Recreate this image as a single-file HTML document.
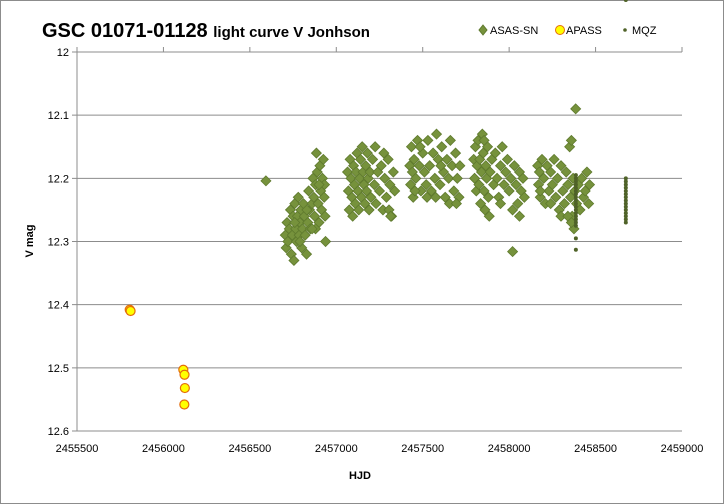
<!DOCTYPE html>
<html><head><meta charset="utf-8"><style>
html,body{margin:0;padding:0;background:#fff;}
svg{display:block;font-family:"Liberation Sans",Arial,sans-serif;}
</style></head><body>
<svg id="chart" width="724" height="504" viewBox="0 0 724 504">
<rect x="0.5" y="0.5" width="723" height="503" fill="#fff" stroke="#8c8c8c"/>
<text x="42" y="37" font-size="20" font-weight="bold" fill="#000">GSC 01071-01128 <tspan font-size="15">light curve V Jonhson</tspan></text>
<g font-size="11" fill="#000">
<g><polygon points="483,25 487,30 483,35 479,30" fill="#76923c" stroke="#5f7a2e"/><text x="490" y="34">ASAS-SN</text></g>
<g><circle cx="560" cy="30" r="4.5" fill="#ffff00" stroke="#e46c0a"/><text x="566" y="34">APASS</text></g>
<g><circle cx="625" cy="30" r="1.8" fill="#4f6228"/><text x="632" y="34">MQZ</text></g>
</g>
<g id="grid"></g>
<g id="axes"></g>
<g id="marks"></g>
<text x="360" y="479" font-size="11" font-weight="bold" text-anchor="middle">HJD</text>
<text transform="translate(33,241) rotate(-90)" font-size="11" font-weight="bold" text-anchor="middle">V mag</text>
</svg>
<script>
const xTicks = [2455500,2456000,2456500,2457000,2457500,2458000,2458500,2459000];
const yTicks = [12,12.1,12.2,12.3,12.4,12.5,12.6];
const yTickLabels = ["12","12.1","12.2","12.3","12.4","12.5","12.6"];
const apassHJD = [2455805,2455810,2456115,2456122,2456124,2456121];
const apassMag = [12.408,12.410,12.503,12.511,12.532,12.558];
const asasData = [
[2456593,12.204],
[2456705,12.29],[2456710,12.31],[2456715,12.27],[2456720,12.30],[2456728,12.28],[2456735,12.25],[2456740,12.32],[2456745,12.29],[2456750,12.26],[2456755,12.33],[2456760,12.24],[2456765,12.28],[2456770,12.30],[2456775,12.26],[2456780,12.23],[2456785,12.29],[2456790,12.27],[2456795,12.25],[2456800,12.31],[2456805,12.28],[2456810,12.24],[2456815,12.26],[2456820,12.29],[2456828,12.32],[2456835,12.27],[2456840,12.22],[2456845,12.25],[2456850,12.28],[2456860,12.24],[2456865,12.20],[2456870,12.23],[2456875,12.26],[2456880,12.21],[2456885,12.16],[2456890,12.19],[2456895,12.24],[2456900,12.27],[2456905,12.18],[2456910,12.22],[2456915,12.25],[2456920,12.20],[2456925,12.17],[2456930,12.23],[2456935,12.26],[2456938,12.30],[2456932,12.21],[2456900,12.21],[2456880,12.28],[2456860,12.28],[2456830,12.25],[2456790,12.30],[2456760,12.27],
[2457065,12.19],[2457070,12.22],[2457075,12.25],[2457080,12.17],[2457085,12.20],[2457090,12.23],[2457095,12.26],[2457100,12.18],[2457105,12.21],[2457110,12.24],[2457115,12.19],[2457120,12.16],[2457125,12.22],[2457130,12.25],[2457135,12.20],[2457140,12.17],[2457145,12.23],[2457150,12.15],[2457155,12.19],[2457160,12.21],[2457165,12.24],[2457170,12.18],[2457175,12.22],[2457180,12.16],[2457185,12.20],[2457190,12.25],[2457195,12.19],[2457200,12.23],[2457210,12.17],[2457220,12.21],[2457230,12.24],[2457240,12.19],[2457250,12.22],[2457260,12.18],[2457270,12.25],[2457280,12.20],[2457290,12.23],[2457300,12.17],[2457310,12.21],[2457320,12.26],[2457330,12.19],[2457338,12.22],[2457225,12.15],[2457275,12.16],[2457305,12.25],[2457315,12.26],
[2457425,12.18],[2457430,12.21],[2457435,12.15],[2457440,12.19],[2457445,12.23],[2457450,12.17],[2457460,12.20],[2457470,12.14],[2457480,12.18],[2457490,12.22],[2457500,12.16],[2457510,12.19],[2457520,12.21],[2457530,12.14],[2457540,12.18],[2457550,12.22],[2457560,12.16],[2457570,12.20],[2457580,12.13],[2457590,12.17],[2457600,12.21],[2457610,12.15],[2457620,12.19],[2457630,12.23],[2457640,12.17],[2457650,12.20],[2457660,12.14],[2457670,12.18],[2457680,12.22],[2457690,12.16],[2457700,12.20],[2457710,12.23],[2457715,12.18],[2457455,12.22],[2457525,12.23],[2457575,12.23],[2457655,12.24],[2457485,12.15],[2457605,12.18],[2457695,12.24],
[2457795,12.17],[2457800,12.20],[2457805,12.15],[2457810,12.22],[2457815,12.18],[2457820,12.14],[2457825,12.21],[2457830,12.17],[2457835,12.24],[2457840,12.19],[2457845,12.13],[2457850,12.16],[2457855,12.22],[2457860,12.25],[2457865,12.18],[2457870,12.20],[2457875,12.15],[2457880,12.23],[2457885,12.26],[2457890,12.19],[2457900,12.17],[2457910,12.21],[2457920,12.16],[2457930,12.20],[2457940,12.23],[2457950,12.18],[2457960,12.15],[2457970,12.21],[2457980,12.19],[2457990,12.17],[2458000,12.22],[2458010,12.20],[2458020,12.25],[2458030,12.18],[2458040,12.21],[2458050,12.24],[2458060,12.19],[2458070,12.22],[2458080,12.20],[2458088,12.23],[2458020,12.316],[2458060,12.26],[2457855,12.14],[2457950,12.24],
[2458165,12.18],[2458170,12.21],[2458175,12.19],[2458180,12.23],[2458190,12.17],[2458200,12.20],[2458210,12.24],[2458220,12.18],[2458230,12.22],[2458240,12.19],[2458250,12.21],[2458260,12.17],[2458270,12.23],[2458280,12.20],[2458290,12.25],[2458300,12.18],[2458310,12.22],[2458320,12.24],[2458330,12.19],[2458340,12.21],[2458350,12.15],[2458355,12.23],[2458360,12.14],[2458365,12.26],[2458370,12.20],[2458375,12.28],[2458380,12.22],[2458385,12.09],[2458390,12.24],[2458400,12.21],[2458410,12.25],[2458420,12.20],[2458430,12.23],[2458440,12.22],[2458450,12.19],[2458460,12.24],[2458465,12.21],[2458180,12.22],[2458240,12.24],[2458300,12.26],[2458340,12.26],[2458360,12.27]
];
const mqzHJD = [2458386,2458386,2458386,2458386,2458386,2458386,2458386,2458386,2458386,2458386,2458386,2458386,2458386,2458386,2458386,2458386,2458386,2458386,2458386,2458675,2458675,2458675,2458675,2458675,2458675,2458675,2458675,2458675,2458675,2458675,2458675,2458675,2458675,2458675,2458675];
const mqzMag = [12.195,12.20,12.205,12.21,12.215,12.22,12.225,12.23,12.235,12.24,12.245,12.25,12.255,12.26,12.265,12.27,12.275,12.295,12.313,12.20,12.205,12.21,12.215,12.22,12.225,12.23,12.235,12.24,12.245,12.25,12.255,12.26,12.265,12.27];

const X0=77, X1=682, Y0=52, Y1=431;
const xMin=2455500, xMax=2459000, yMin=12, yMax=12.6;
function sx(v){return X0+(v-xMin)/(xMax-xMin)*(X1-X0);}
function sy(v){return Y0+(v-yMin)/(yMax-yMin)*(Y1-Y0);}
const NS="http://www.w3.org/2000/svg";
function mk(tag,attrs,parent){const e=document.createElementNS(NS,tag);for(const k in attrs)e.setAttribute(k,attrs[k]);parent.appendChild(e);return e;}
const grid=document.getElementById('grid'), axes=document.getElementById('axes'), marks=document.getElementById('marks');
yTicks.forEach((t,i)=>{
  const y=sy(t);
  const l=mk('line',{x1:X0-5,x2:X1,y1:y,y2:y,stroke:'#8c8c8c','stroke-width':1},grid);
  
  
  const tx=mk('text',{x:X0-8,y:y+4,'font-size':11,'text-anchor':'end',fill:'#000'},axes);
  tx.textContent=yTickLabels[i];
  
  
});
const ya=mk('line',{x1:X0,x2:X0,y1:Y0,y2:Y1,stroke:'#8c8c8c'},axes);


xTicks.forEach(t=>{
  const x=sx(t);
  const tk=mk('line',{x1:x,x2:x,y1:Y0-5,y2:Y0,stroke:'#8c8c8c'},axes);
  
  
  const tx=mk('text',{x:x,y:452,'font-size':11,'text-anchor':'middle',fill:'#000'},axes);
  tx.textContent=String(t);
  
  
});
asasData.forEach(p=>{
  const x=sx(p[0]), y=sy(p[1]);
  const d=mk('polygon',{points:`${x},${y-5} ${x+5},${y} ${x},${y+5} ${x-5},${y}`,fill:'#76923c',stroke:'#5f7a2e','stroke-width':0.8},marks);
  
  
});
apassHJD.forEach((h,i)=>{
  const c=mk('circle',{cx:sx(h),cy:sy(apassMag[i]),r:4.5,fill:'#ffff00',stroke:'#e46c0a','stroke-width':1.2},marks);
  
  
});
mqzHJD.forEach((h,i)=>{
  const c=mk('circle',{cx:sx(h),cy:sy(mqzMag[i]),r:2,fill:'#4f6228'},marks);
  
  
});
</script>
</body></html>
